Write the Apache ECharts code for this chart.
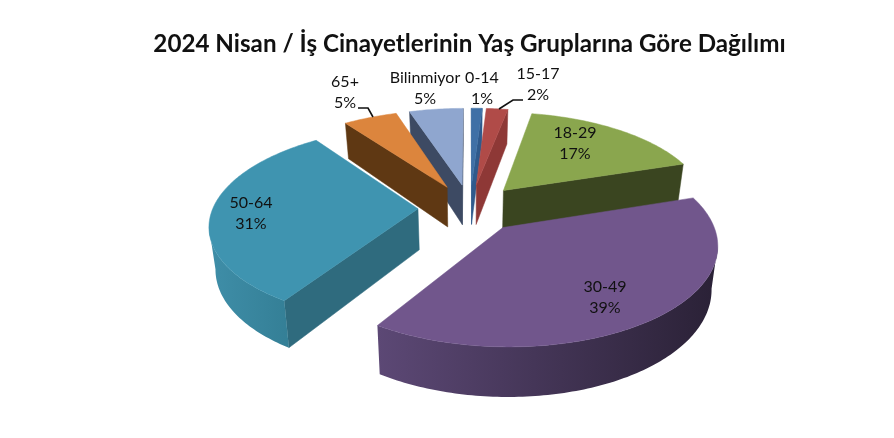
<!DOCTYPE html>
<html>
<head>
<meta charset="utf-8">
<style>html,body{margin:0;padding:0;background:#fff}#c{width:894px;height:438px}</style>
<script src="https://cdn.jsdelivr.net/npm/echarts@6/dist/echarts.min.js"></script>
</head>
<body>
<div id="c"></div>
<script>
const titleText = '2024 Nisan / İş Cinayetlerinin Yaş Gruplarına Göre Dağılımı';
const categories = ['0-14', '15-17', '18-29', '30-49', '50-64', '65+', 'Bilinmiyor'];
const values = [1, 2, 17, 39, 31, 5, 5];

// styling
const topColors = ['#3f70a6', '#b04b48', '#8aa64e', '#71568c', '#3f94b0', '#dc853d', '#8fa6cf'];
const wallColors = ['#2f5a8c', '#8e3836', '#3a4520', '#3a2d4c', '#2f6b7e', '#5f3813', '#3d4a63'];
const arcStops = [
  ['#2f5a8c', '#2f5a8c'], ['#8e3836', '#8e3836'], ['#3a4520', '#3a4520'],
  ['#5c4875', '#2a2136'], ['#3f8ea8', '#347f96'], ['#5f3813', '#5f3813'], ['#3d4a63', '#3d4a63']
];
// label centre in page pixels, plus leader line (label side to pie side)
const labelPos = [[482, 88], [538, 84], [575, 143], [605, 297], [251, 213], [345, 92], [425, 88]];
const leaders = {
  1: [[523, 100], [513, 100], [499, 109]],
  5: [[358, 108], [368, 108], [373, 117]]
};

// projection of the tilted, exploded pie
const CX = 470, CY = 208, R = 205, EXPLODE = 52, K = 0.462, F = 1356, H = 41;
const total = values.reduce((a, b) => a + b, 0);
const rad = d => d * Math.PI / 180;
function project(X, Y, z) {
  const s = F / (F + Y);
  const zf = 1 - 0.025 * (z / H);
  return [CX + X * s * zf, CY + (-Y * K + z) * s];
}

function renderItem(params, api) {
  const i = params.dataIndex;
  let before = 0;
  for (let j = 0; j < i; j++) before += values[j];
  const a0 = before / total * 360;
  const a1 = (before + api.value(0)) / total * 360;
  const m = (a0 + a1) / 2;
  const ox = EXPLODE * Math.sin(rad(m)), oy = EXPLODE * Math.cos(rad(m));
  const rim = (t, z) => project(ox + R * Math.sin(rad(t)), oy + R * Math.cos(rad(t)), z);
  const tip = z => project(ox, oy, z);
  const thetas = [];
  const n = Math.max(2, Math.ceil(a1 - a0));
  for (let j = 0; j <= n; j++) thetas.push(a0 + (a1 - a0) * j / n);

  const children = [];
  const poly = (points, fill) => children.push({
    type: 'polygon', shape: { points },
    style: { fill, stroke: typeof fill === 'string' ? fill : null, lineWidth: 0.5 }
  });
  const radial = (p, q, qb, pb) => { if (q[0] < p[0]) poly([p, q, qb, pb], wallColors[i]); };

  // hidden walls are skipped: an edge faces the viewer when it runs right to left
  radial(tip(0), rim(a0, 0), rim(a0, H), tip(H));
  radial(rim(a1, 0), tip(0), tip(H), rim(a1, H));
  let run = [];
  const flush = () => {
    if (run.length > 1) {
      const tops = run.map(t => rim(t, 0));
      const bots = run.map(t => rim(t, H)).reverse();
      poly(tops.concat(bots), new echarts.graphic.LinearGradient(0, 0, 1, 0, [
        { offset: 0, color: arcStops[i][0] }, { offset: 1, color: arcStops[i][1] }
      ]));
    }
    run = [];
  };
  for (let j = 0; j < thetas.length - 1; j++) {
    const p = rim(thetas[j], 0), q = rim(thetas[j + 1], 0);
    if (q[0] < p[0]) {
      if (!run.length) run.push(thetas[j]);
      run.push(thetas[j + 1]);
    } else flush();
  }
  flush();
  poly([tip(0)].concat(thetas.map(t => rim(t, 0))), topColors[i]);

  // back slices first
  const order = Math.round(-Math.cos(rad(m)) * 100);
  children.forEach(c => { c.z2 = order; });

  children.push({
    type: 'text', z2: 1000,
    style: {
      x: labelPos[i][0], y: labelPos[i][1],
      text: categories[i] + '\n' + api.value(0) + '%',
      align: 'center', verticalAlign: 'middle',
      fontFamily: 'Lato', fontSize: 16, lineHeight: 21, fill: '#111'
    }
  });
  if (leaders[i]) {
    children.push({
      type: 'polyline', z2: 1000, shape: { points: leaders[i] },
      style: { fill: null, stroke: '#111', lineWidth: 1.6 }
    });
  }
  return { type: 'group', children };
}

const chart = echarts.init(document.getElementById('c'), null, { renderer: 'canvas' });
chart.setOption({
  animation: false,
  backgroundColor: '#fff',
  title: {
    text: titleText, left: 464.5, top: 27, textAlign: 'center',
    textStyle: { fontFamily: 'Lato', fontWeight: 'bold', fontSize: 24.2, color: '#111' }
  },
  series: [{
    type: 'custom', coordinateSystem: 'none', silent: true,
    data: values.map(v => [v]), renderItem
  }]
});
</script>
</body>
</html>
